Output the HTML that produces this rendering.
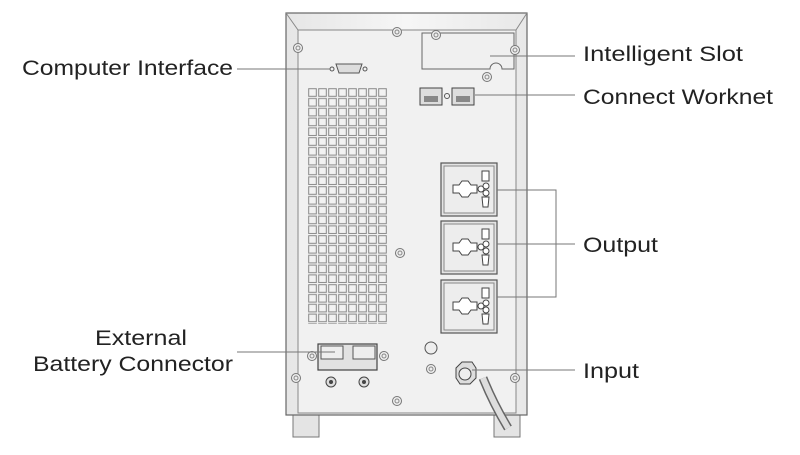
<!DOCTYPE html>
<html><head><meta charset="utf-8"><style>html,body{margin:0;padding:0;background:#fff}svg{display:block}</style></head>
<body>
<svg width="800" height="455" viewBox="0 0 800 455" xmlns="http://www.w3.org/2000/svg">
<defs>
<pattern id="g" x="308" y="88" width="10" height="9.8" patternUnits="userSpaceOnUse">
<rect x="0.7" y="0.7" width="7.6" height="7.6" fill="#f2f2f2" stroke="#8a8a8a" stroke-width="1"/>
</pattern>
<linearGradient id="bg" x1="0" x2="1"><stop offset="0" stop-color="#e6e6e6"/><stop offset="0.5" stop-color="#f6f6f6"/><stop offset="1" stop-color="#e8e8e8"/></linearGradient>
<g id="scr"><circle r="4.5" fill="#eee" stroke="#777"/><circle r="2" fill="none" stroke="#888"/></g>
<g id="sock">
<rect x="0" y="0" width="56" height="53" fill="#e4e4e4" stroke="#555" stroke-width="1.2"/>
<rect x="3" y="3" width="50" height="47" fill="#ededed" stroke="#888"/>
<path d="M12 22h6l3-4h6l3 4h6v8h-6l-3 4h-6l-3-4h-6z" fill="#fff" stroke="#444"/>
<circle cx="40" cy="26" r="3" fill="#fff" stroke="#444"/><circle cx="45" cy="23" r="3" fill="#fff" stroke="#444"/><circle cx="45" cy="30" r="3" fill="#fff" stroke="#444"/>
<path d="M41 8h7v10h-7z M41 34h7l-1 10h-5z" fill="#fff" stroke="#444"/>
</g>
</defs>
<!-- cabinet -->
<rect x="293" y="410" width="26" height="27" fill="#e4e4e4" stroke="#777"/>
<rect x="494" y="410" width="26" height="27" fill="#e4e4e4" stroke="#777"/>
<rect x="286" y="13" width="241" height="402" fill="url(#bg)" stroke="#666" stroke-width="1.2"/>
<path d="M286 13L298 30M527 13L516 30" stroke="#888"/>
<rect x="298" y="30" width="218" height="383" fill="#f1f1f1" stroke="#888"/>
<rect x="308" y="88" width="80" height="236" fill="url(#g)"/>
<!-- slot -->
<path d="M422 33h92v36h-12a6 6 0 0 0-12 0h-68z" fill="#f0f0f0" stroke="#666"/>
<use href="#scr" x="436" y="35"/><use href="#scr" x="487" y="77"/>
<use href="#scr" x="397" y="32"/><use href="#scr" x="298" y="48"/><use href="#scr" x="515" y="50"/>
<use href="#scr" x="400" y="253"/><use href="#scr" x="296" y="378"/><use href="#scr" x="515" y="378"/><use href="#scr" x="397" y="401"/>
<!-- db9 -->
<path d="M336 64h26l-3 9h-20z" fill="#ddd" stroke="#555"/>
<circle cx="332" cy="69" r="2" fill="none" stroke="#555"/><circle cx="365" cy="69" r="2" fill="none" stroke="#555"/>
<!-- RJ45 -->
<rect x="420" y="88" width="22" height="17" fill="#ddd" stroke="#444"/><rect x="424" y="96" width="14" height="6" fill="#888"/>
<rect x="452" y="88" width="22" height="17" fill="#ddd" stroke="#444"/><rect x="456" y="96" width="14" height="6" fill="#888"/>
<circle cx="447" cy="96" r="2.5" fill="none" stroke="#555"/>
<!-- sockets -->
<use href="#sock" x="441" y="163"/><use href="#sock" x="441" y="221"/><use href="#sock" x="441" y="280"/>
<!-- battery -->
<rect x="318" y="344" width="59" height="26" fill="#e2e2e2" stroke="#444" stroke-width="1.2"/>
<rect x="321" y="346" width="22" height="13" fill="#eee" stroke="#555"/><rect x="353" y="346" width="22" height="13" fill="#eee" stroke="#555"/>
<use href="#scr" x="312" y="356"/><use href="#scr" x="384" y="356"/>
<circle cx="331" cy="382" r="5" fill="#ddd" stroke="#444"/><circle cx="331" cy="382" r="2" fill="#444"/>
<circle cx="364" cy="382" r="5" fill="#ddd" stroke="#444"/><circle cx="364" cy="382" r="2" fill="#444"/>
<circle cx="431" cy="348" r="6" fill="#eee" stroke="#555"/><use href="#scr" x="431" y="369"/>
<!-- input -->
<path d="M483 378q10 25 25 50" stroke="#666" stroke-width="9" fill="none"/>
<path d="M483 378q10 25 25 50" stroke="#ddd" stroke-width="6" fill="none"/>
<path d="M456 368l6-6h10l4 6v10l-6 6h-10l-4-6z" fill="#ddd" stroke="#444"/>
<circle cx="465" cy="374" r="6" fill="#eee" stroke="#444"/>
<!-- leader lines -->
<g stroke="#777" stroke-width="1" fill="none">
<path d="M237 69H330"/><path d="M490 56H575"/><path d="M475 95H575"/>
<path d="M497 190H556V297H497M497 244H575"/>
<path d="M237 352H335"/><path d="M472 370H575"/>
</g>
<g font-family="Liberation Sans, sans-serif" font-size="21" fill="#222">
<text x="22" y="75" textLength="211" lengthAdjust="spacingAndGlyphs">Computer Interface</text>
<text x="583" y="61" textLength="160" lengthAdjust="spacingAndGlyphs">Intelligent Slot</text>
<text x="583" y="104" textLength="190" lengthAdjust="spacingAndGlyphs">Connect Worknet</text>
<text x="583" y="252" textLength="75" lengthAdjust="spacingAndGlyphs">Output</text>
<text x="583" y="378" textLength="56" lengthAdjust="spacingAndGlyphs">Input</text>
<text x="95" y="345" textLength="92" lengthAdjust="spacingAndGlyphs">External</text>
<text x="33" y="371" textLength="200" lengthAdjust="spacingAndGlyphs">Battery Connector</text>
</g>
</svg>
</body></html>
